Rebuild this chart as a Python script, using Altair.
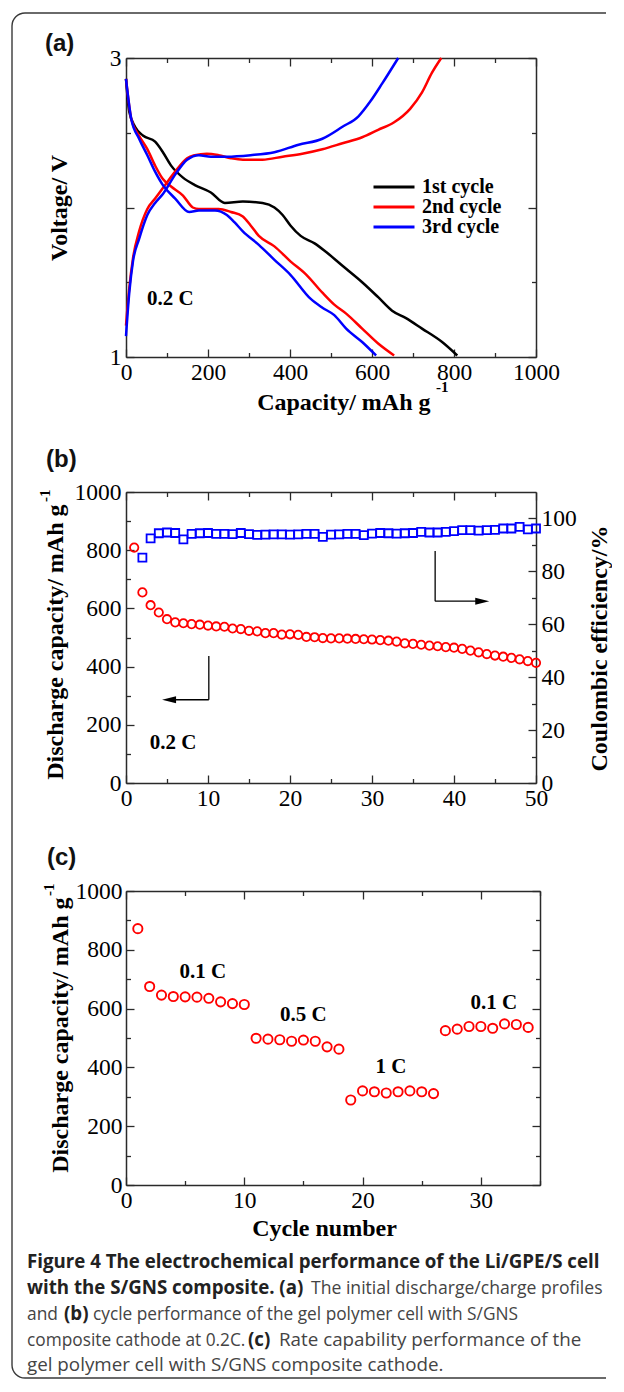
import altair as alt
import pandas as pd

# ---------------- (a) discharge / charge profiles ----------------
a_names = ["1st cycle", "2nd cycle", "3rd cycle"]
a_colors = ["#000000", "#ff0000", "#0000ff"]

a1_dis_cap = [0, 8, 22, 42, 71, 90, 110, 139, 168, 207, 241, 285, 333, 362, 382, 401, 426, 460, 489, 528, 576, 615, 649, 683, 722, 771, 808]
a1_dis_v = [2.86, 2.64, 2.54, 2.48, 2.44, 2.37, 2.28, 2.20, 2.15, 2.10, 2.03, 2.04, 2.03, 2.00, 1.95, 1.88, 1.81, 1.76, 1.70, 1.61, 1.50, 1.40, 1.31, 1.26, 1.19, 1.10, 1.01]

a2_dis_cap = [0, 13, 32, 52, 71, 90, 110, 139, 163, 178, 226, 256, 285, 304, 324, 362, 401, 440, 479, 508, 537, 576, 615, 654]
a2_dis_v = [2.86, 2.59, 2.48, 2.39, 2.28, 2.19, 2.14, 2.08, 2.00, 1.99, 1.99, 1.97, 1.94, 1.88, 1.81, 1.74, 1.64, 1.55, 1.43, 1.35, 1.29, 1.19, 1.09, 1.01]
a2_chg_cap = [0, 8, 17, 32, 52, 71, 90, 120, 149, 168, 197, 226, 256, 285, 333, 382, 430, 479, 528, 576, 615, 654, 693, 722, 746, 769]
a2_chg_v = [1.21, 1.46, 1.66, 1.84, 1.99, 2.06, 2.13, 2.24, 2.33, 2.35, 2.36, 2.35, 2.33, 2.32, 2.32, 2.34, 2.36, 2.39, 2.43, 2.47, 2.52, 2.57, 2.66, 2.77, 2.90, 3.00]

a3_dis_cap = [0, 13, 32, 52, 71, 90, 120, 154, 178, 217, 246, 265, 285, 324, 362, 401, 450, 479, 508, 537, 576, 610]
a3_dis_v = [2.86, 2.59, 2.46, 2.35, 2.24, 2.15, 2.06, 1.97, 1.98, 1.98, 1.95, 1.90, 1.84, 1.75, 1.65, 1.55, 1.39, 1.33, 1.28, 1.19, 1.10, 1.01]
a3_chg_cap = [0, 8, 17, 32, 52, 71, 90, 120, 149, 178, 207, 246, 304, 362, 421, 479, 528, 567, 596, 625, 664]
a3_chg_v = [1.14, 1.43, 1.64, 1.79, 1.95, 2.03, 2.09, 2.22, 2.32, 2.35, 2.34, 2.34, 2.35, 2.37, 2.42, 2.46, 2.54, 2.61, 2.71, 2.83, 3.00]

a_note_text = ["0.2 C"]
a_note_x = [51]
a_note_y = [1.39]

# ---------------- (b) cycle performance ----------------
b_cycles = list(range(1, 51))
b_capacity = [809, 655, 611, 586, 563, 552, 549, 546, 544, 541, 538, 537, 531, 529, 523, 521, 515, 515, 510, 511,
              509, 502, 501, 498, 497, 497, 496, 495, 494, 493, 491, 489, 486, 480, 478, 475, 472, 470, 467, 465,
              461, 455, 449, 443, 438, 434, 430, 425, 419, 413]
b_ce_cycles = list(range(2, 51))
b_ce = [85.2, 92.5, 94.4, 94.7, 94.5, 92.1, 94.2, 94.4, 94.5, 94.2, 94.2, 94.1, 94.5, 94.1, 93.8, 93.9, 94.0, 94.0,
        93.9, 94.0, 94.2, 94.2, 93.0, 93.9, 94.0, 94.2, 94.2, 93.7, 94.3, 94.5, 94.4, 94.3, 94.4, 94.5, 94.9, 94.7,
        94.7, 94.9, 95.2, 95.6, 95.6, 95.4, 95.6, 95.7, 96.2, 96.2, 96.8, 95.9, 96.2]
b_arrow_x = [10.1, 10.1, 37.7, 37.7]
b_arrow_x2 = [10.1, 5.0, 37.7, 43.6]
b_arrow_y = [436, 286, 797, 625]
b_arrow_y2 = [286, 286, 625, 625]
b_head_left = (4.4, 286)
b_head_right = (44.3, 625)
b_note_text = ["0.2 C"]
b_note_x = [2.9]
b_note_y = [139]

# ---------------- (c) rate capability ----------------
c_cycles = list(range(1, 35))
c_capacity = [872, 675, 646, 641, 640, 639, 635, 623, 617, 614, 499, 496, 494, 489, 493, 489, 470, 462,
              289, 320, 317, 313, 317, 320, 317, 311, 525, 530, 539, 539, 533, 548, 546, 536]
c_note_text = ["0.1 C", "0.5 C", "1 C", "0.1 C"]
c_note_x = [6.5, 15.0, 22.4, 31.1]
c_note_y = [723, 578, 400, 620]

# ---------------- caption ----------------
cap_lines = [0, 1, 1, 2, 2, 2, 3, 3, 3, 4]
cap_bold = [True, True, False, False, True, False, False, True, False, False]
cap_text = ["Figure 4 The electrochemical performance of the Li/GPE/S cell",
            "with the S/GNS composite. (a)",
            "The initial discharge/charge profiles",
            "and",
            "(b)",
            "cycle performance of the gel polymer cell with S/GNS",
            "composite cathode at 0.2C.",
            "(c)",
            "Rate capability performance of the",
            "gel polymer cell with S/GNS composite cathode."]
cap_x = [27, 27, 311, 27, 64, 93, 27, 248, 279, 27]
cap_size = [18.7, 18.7, 17.6, 17.4, 18.7, 17.3, 17.3, 18.7, 18.8, 18.8]

SERIF = "Liberation Serif"
SANS = "Liberation Sans"
CAPF = "Open Sans"
AXC = "#2a2a2a"
LBL = 23.5
TTL = 24

X0 = 126     # page x of plot left edges
CAP_TOP = 1240


def ticksize(test):
    return {"condition": {"test": test, "value": 8}, "value": 4.5}


def label_axis(orient, values, title=None, **kw):
    return alt.Axis(orient=orient, values=values, format="d", ticks=False, tickSize=0, domain=True, labels=True,
                    grid=False, title=title, labelFont=SERIF, labelFontSize=LBL, labelColor="black",
                    labelPadding=kw.pop("labelPadding", 4), labelOverlap=False, labelFlush=False,
                    domainColor=AXC, domainWidth=1.5,
                    titleFont=SERIF, titleFontWeight="bold", titleFontSize=TTL, titleColor="black", **kw)


def tick_axis(orient, offset, values, test, domain=False):
    return alt.Axis(orient=orient, offset=offset, values=values, labels=False, ticks=True,
                    tickSize=ticksize(test), tickColor=AXC, tickWidth=1.3, domain=domain,
                    domainColor=AXC, domainWidth=1.5, grid=False, title=None)


one = pd.DataFrame({"k": [0]})


def free_text(txt, x, y, size, font=SERIF, weight="bold", angle=0, align="left", color="black"):
    return alt.Chart(one).mark_text(text=txt, font=font, fontWeight=weight, fontSize=size, angle=angle,
                                    align=align, baseline="alphabetic", color=color).encode(
        x=alt.value(x), y=alt.value(y))


# ================= panel (a) =================
WA, HA = 410, 299
rows = []
for name, seg, caps, vs in [(a_names[0], "d1", a1_dis_cap, a1_dis_v),
                            (a_names[1], "d2", a2_dis_cap, a2_dis_v),
                            (a_names[1], "c2", a2_chg_cap, a2_chg_v),
                            (a_names[2], "d3", a3_dis_cap, a3_dis_v),
                            (a_names[2], "c3", a3_chg_cap, a3_chg_v)]:
    for i, (c, v) in enumerate(zip(caps, vs)):
        rows.append({"cycle": name, "seg": seg, "idx": i, "cap": c, "v": v})
dfa = pd.DataFrame(rows)
xa = alt.Scale(domain=[0, 1000], nice=False, zero=False)
ya = alt.Scale(domain=[1, 3], nice=False, zero=False)
xa_t = list(range(0, 1001, 100))
ya_t = [1, 1.5, 2, 2.5, 3]

lines_a = alt.Chart(dfa).mark_line(strokeWidth=2.5, interpolate="monotone").encode(
    x=alt.X("cap:Q", scale=xa, axis=label_axis("bottom", [0, 200, 400, 600, 800, 1000], "Capacity/ mAh g",
                                               titleX=304, titleY=52, titleAlign="right",
                                               titleBaseline="alphabetic", titleAngle=0, labelPadding=3)),
    y=alt.Y("v:Q", scale=ya, axis=label_axis("left", [1, 2, 3], "Voltage/ V", titleX=-60, titleY=149.5,
                                             titleAlign="center", titleAngle=270, titleBaseline="alphabetic",
                                             labelPadding=5)),
    color=alt.Color("cycle:N", scale=alt.Scale(domain=a_names, range=a_colors),
                    legend=alt.Legend(orient="none", legendX=246, legendY=119, title=None, symbolType="stroke",
                                      symbolSize=1681, symbolStrokeWidth=3, labelFont=SERIF,
                                      labelFontWeight="bold", labelFontSize=20, labelColor="black",
                                      labelOffset=6, clipHeight=20, rowPadding=0, padding=0)),
    detail="seg:N",
    order="idx:Q",
)
ta1 = alt.Chart(dfa).mark_point(opacity=0).encode(
    x=alt.X("cap:Q", scale=xa, axis=tick_axis("top", -HA, xa_t, "datum.value % 200 === 0")),
    y=alt.Y("v:Q", scale=ya, axis=tick_axis("right", -WA, ya_t, "datum.value % 1 === 0")))
ta2 = alt.Chart(dfa).mark_point(opacity=0).encode(
    x=alt.X("cap:Q", scale=xa, axis=tick_axis("bottom", -HA, xa_t, "datum.value % 200 === 0", True)),
    y=alt.Y("v:Q", scale=ya, axis=tick_axis("left", -WA, ya_t, "datum.value % 1 === 0", True)))
note_a = alt.Chart(pd.DataFrame({"t": a_note_text, "x": a_note_x, "y": a_note_y})).mark_text(
    font=SERIF, fontWeight="bold", fontSize=21, align="left", baseline="middle", color="black").encode(
    x=alt.X("x:Q", scale=xa, axis=None), y=alt.Y("y:Q", scale=ya, axis=None), text="t:N")
panel_a = alt.layer(
    lines_a, ta1, ta2, note_a,
    free_text("(a)", 45 - X0, -7, 24, font=SANS, color="#111111"),
    free_text("-1", 310, 334, 15),
).resolve_axis(x="independent", y="independent").properties(width=WA, height=HA)

# ================= panel (b) =================
WB, HB = 410, 291
dfb = pd.DataFrame({"cycle": b_cycles, "cap": b_capacity})
dfb2 = pd.DataFrame({"cycle": b_ce_cycles, "ce": b_ce})
xb = alt.Scale(domain=[0, 50], nice=False, zero=False)
yb1 = alt.Scale(domain=[0, 1000], nice=False, zero=False)
yb2 = alt.Scale(domain=[0, 110], nice=False, zero=False)
xb_t = list(range(0, 51, 5))
yb1_t = list(range(0, 1001, 100))
yb2_t = list(range(0, 101, 10))

circ_b = alt.Chart(dfb).mark_point(shape="circle", filled=False, size=70, strokeWidth=1.8,
                                   color="#ff0000", opacity=1).encode(
    x=alt.X("cycle:Q", scale=xb, axis=label_axis("bottom", [0, 10, 20, 30, 40, 50], None, labelPadding=3)),
    y=alt.Y("cap:Q", scale=yb1, axis=label_axis("left", [0, 200, 400, 600, 800, 1000],
                                                "Discharge capacity/ mAh g", titleX=-64, titleY=12,
                                                titleAlign="right", titleAngle=270, titleBaseline="alphabetic",
                                                labelPadding=5)))
sq_b = alt.Chart(dfb2).mark_point(shape="square", filled=False, size=64, strokeWidth=1.8,
                                  color="#0000ff", opacity=1).encode(
    x=alt.X("cycle:Q", scale=xb, axis=None),
    y=alt.Y("ce:Q", scale=yb2, axis=label_axis("right", [0, 20, 40, 60, 80, 100], "Coulombic efficiency/%",
                                               titleX=70, titleY=156, titleAlign="center", titleAngle=270,
                                               titleBaseline="alphabetic", labelPadding=5)))
tb1 = alt.Chart(dfb).mark_point(opacity=0).encode(
    x=alt.X("cycle:Q", scale=xb, axis=tick_axis("top", -HB, xb_t, "datum.value % 10 === 0")),
    y=alt.Y("cap:Q", scale=yb1, axis=tick_axis("right", -WB, yb1_t, "datum.value % 200 === 0")))
tb2 = alt.Chart(dfb2).mark_point(opacity=0).encode(
    x=alt.X("cycle:Q", scale=xb, axis=tick_axis("bottom", -HB, xb_t, "datum.value % 10 === 0", True)),
    y=alt.Y("ce:Q", scale=yb2, axis=tick_axis("left", -WB, yb2_t, "datum.value % 20 === 0")))
arr_b = alt.Chart(pd.DataFrame({"x": b_arrow_x, "x2": b_arrow_x2, "y": b_arrow_y, "y2": b_arrow_y2})).mark_rule(
    color="black", strokeWidth=1.3).encode(
    x=alt.X("x:Q", scale=xb, axis=None), x2="x2:Q",
    y=alt.Y("y:Q", scale=yb1, axis=None), y2="y2:Q")
headL = alt.Chart(pd.DataFrame({"x": [b_head_left[0]], "y": [b_head_left[1]]})).mark_point(
    shape="M0,0L2,-0.5L2,0.5Z", filled=True, size=196, color="black", opacity=1).encode(
    x=alt.X("x:Q", scale=xb, axis=None), y=alt.Y("y:Q", scale=yb1, axis=None))
headR = alt.Chart(pd.DataFrame({"x": [b_head_right[0]], "y": [b_head_right[1]]})).mark_point(
    shape="M0,0L-2,-0.5L-2,0.5Z", filled=True, size=196, color="black", opacity=1).encode(
    x=alt.X("x:Q", scale=xb, axis=None), y=alt.Y("y:Q", scale=yb1, axis=None))
note_b = alt.Chart(pd.DataFrame({"t": b_note_text, "x": b_note_x, "y": b_note_y})).mark_text(
    font=SERIF, fontWeight="bold", fontSize=21, align="left", baseline="middle", color="black").encode(
    x=alt.X("x:Q", scale=xb, axis=None), y=alt.Y("y:Q", scale=yb1, axis=None), text="t:N")
panel_b = alt.layer(
    arr_b, headL, headR, circ_b, sq_b, tb1, tb2, note_b,
    free_text("(b)", 46 - X0, -25, 24, font=SANS, color="#111111"),
    free_text("-1", -76, 10, 15, angle=270),
).resolve_scale(y="independent").resolve_axis(x="independent", y="independent").properties(width=WB, height=HB)

# ================= panel (c) =================
WC, HC = 414, 294
dfc = pd.DataFrame({"cycle": c_cycles, "cap": c_capacity})
xc = alt.Scale(domain=[0, 35], nice=False, zero=False)
yc = alt.Scale(domain=[0, 1000], nice=False, zero=False)
xc_t = list(range(0, 36, 5))
yc_t = list(range(0, 1001, 100))
circ_c = alt.Chart(dfc).mark_point(shape="circle", filled=False, size=85, strokeWidth=1.9,
                                   color="#ff0000", opacity=1).encode(
    x=alt.X("cycle:Q", scale=xc, axis=label_axis("bottom", [0, 10, 20, 30], "Cycle number", titleX=198,
                                                 titleY=50, titleAlign="center", titleAngle=0,
                                                 titleBaseline="alphabetic", labelPadding=3)),
    y=alt.Y("cap:Q", scale=yc, axis=label_axis("left", [0, 200, 400, 600, 800, 1000],
                                               "Discharge capacity/ mAh g", titleX=-59, titleY=6,
                                               titleAlign="right", titleAngle=270, titleBaseline="alphabetic",
                                               labelPadding=4)))
tc1 = alt.Chart(dfc).mark_point(opacity=0).encode(
    x=alt.X("cycle:Q", scale=xc, axis=tick_axis("top", -HC, xc_t, "datum.value % 10 === 0")),
    y=alt.Y("cap:Q", scale=yc, axis=tick_axis("right", -WC, yc_t, "datum.value % 200 === 0")))
tc2 = alt.Chart(dfc).mark_point(opacity=0).encode(
    x=alt.X("cycle:Q", scale=xc, axis=tick_axis("bottom", -HC, xc_t, "datum.value % 10 === 0", True)),
    y=alt.Y("cap:Q", scale=yc, axis=tick_axis("left", -WC, yc_t, "datum.value % 200 === 0", True)))
note_c = alt.Chart(pd.DataFrame({"t": c_note_text, "x": c_note_x, "y": c_note_y})).mark_text(
    font=SERIF, fontWeight="bold", fontSize=21, align="center", baseline="middle", color="black").encode(
    x=alt.X("x:Q", scale=xc, axis=None), y=alt.Y("y:Q", scale=yc, axis=None), text="t:N")
panel_c = alt.layer(
    circ_c, tc1, tc2, note_c,
    free_text("(c)", 47 - X0, -26, 24, font=SANS, color="#111111"),
    free_text("-1", -72, 5, 15, angle=270),
).resolve_axis(x="independent", y="independent").properties(width=WC, height=HC)

# ================= caption + frame =================
FRAME_L, FRAME_T, FRAME_R, FRAME_B, RAD = 12, 14, 606, 1379, 13
fw, fh = FRAME_R - FRAME_L, FRAME_B - FRAME_T
frame_path = (f"M{fw},0L{RAD},0A{RAD},{RAD} 0 0 0 0,{RAD}L0,{fh - RAD}"
              f"A{RAD},{RAD} 0 0 0 {RAD},{fh}L{fw},{fh}")
frame = alt.Chart(one).mark_point(shape=frame_path, size=4, filled=False, stroke="#3a3a3a",
                                  strokeWidth=1.4, opacity=1).encode(
    x=alt.value(FRAME_L - X0), y=alt.value(FRAME_T - CAP_TOP))

base_lines = [1269, 1295, 1321, 1347, 1372]
cap_layers = [frame]
for ln, bold, txt, px, sz in zip(cap_lines, cap_bold, cap_text, cap_x, cap_size):
    cap_layers.append(free_text(txt, px - X0, base_lines[ln] - CAP_TOP, sz, font=CAPF,
                                weight="bold" if bold else "normal",
                                color="#222222" if bold else "#444444"))
caption = alt.layer(*cap_layers).properties(width=410, height=130)


def spacer(h):
    return alt.Chart(one).mark_point(opacity=0).encode(x=alt.value(0), y=alt.value(0)).properties(
        width=410, height=h)


chart = alt.vconcat(
    panel_a, spacer(135), panel_b, spacer(108), panel_c, spacer(54), caption,
    spacing=0, bounds="flush",
).properties(
    padding={"left": 0, "top": 1, "right": 0, "bottom": 0}
).configure_view(stroke="transparent")

chart.save("out.html", embed_options={"renderer": "svg", "actions": False})
